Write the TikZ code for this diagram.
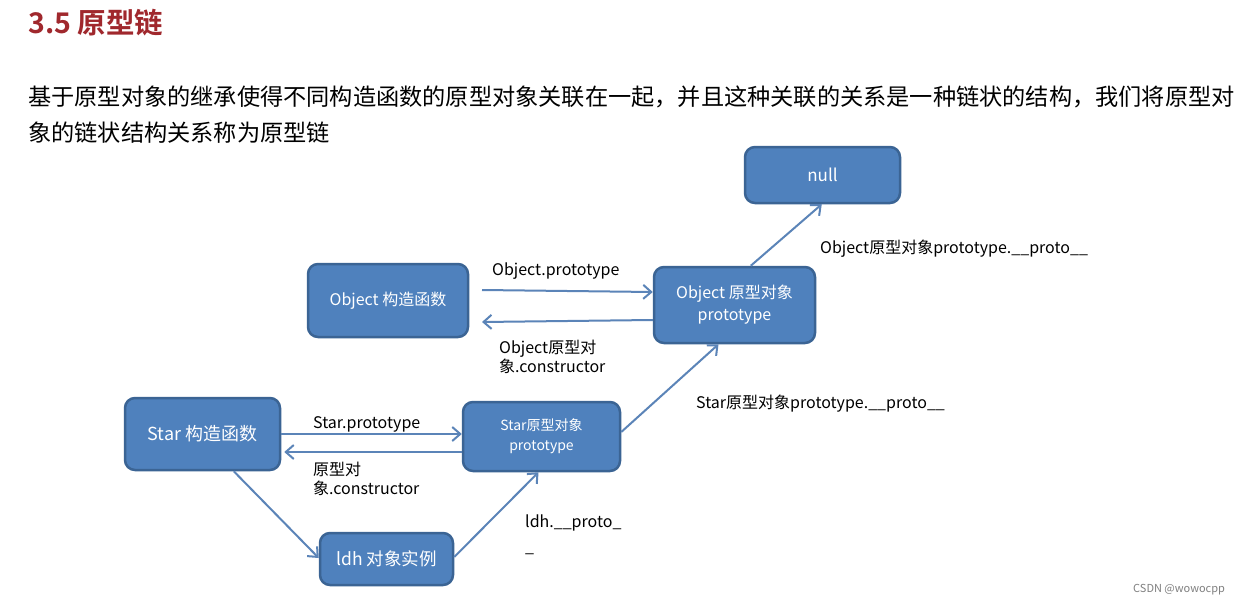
\documentclass[tikz,border=0pt]{standalone}
\usepackage{fontspec}
\setmainfont{Noto Sans CJK SC}
\newfontfamily\cjkb{Noto Sans CJK SC Bold}
\usetikzlibrary{arrows.meta}
\definecolor{boxfill}{HTML}{4F81BD}
\definecolor{boxline}{HTML}{3B6494}
\definecolor{arrowc}{HTML}{5B84B8}
\definecolor{titlered}{HTML}{A0282D}
\tikzset{
  box/.style={draw=boxline, line width=2.5pt, fill=boxfill, rounded corners=10pt, text=white, align=center, inner sep=0pt},
  link/.style={draw=arrowc, line width=2pt, -{Straight Barb[length=8pt,width=14pt,line width=2pt]}},
  lbl/.style={anchor=west, inner sep=0pt, font=\fontsize{16}{19}\selectfont, align=left},
}
\begin{document}
\begin{tikzpicture}[x=1pt,y=-1pt]
\useasboundingbox (0,0) rectangle (1247,607);
\fill[white] (0,0) rectangle (1247,607);
% title and paragraph
\node[anchor=west, inner sep=0pt, text=titlered, font=\cjkb\fontsize{28.5}{32}\selectfont] (title) at (28,23) {3.5 原型链};
\node[anchor=west, inner sep=0pt, font=\fontsize{23.2}{36}\selectfont] (p1) at (28,97) {基于原型对象的继承使得不同构造函数的原型对象关联在一起，并且这种关联的关系是一种链状的结构，我们将原型对};
\node[anchor=west, inner sep=0pt, font=\fontsize{23.2}{36}\selectfont] (p2) at (28,133) {象的链状结构关系称为原型链};
% boxes
\node[box, minimum width=155pt, minimum height=56pt, font=\fontsize{17}{20}\selectfont] (null) at (822.5,175) {null};
\node[box, minimum width=160pt, minimum height=73pt, font=\fontsize{16}{19}\selectfont] (octor) at (388,300.5) {Object 构造函数};
\node[box, minimum width=161pt, minimum height=76pt, font=\fontsize{16}{22}\selectfont] (oproto) at (734.5,305) {Object 原型对象\\prototype};
\node[box, minimum width=155pt, minimum height=72pt, font=\fontsize{18}{20}\selectfont] (sctor) at (202.5,434) {Star 构造函数};
\node[box, minimum width=157pt, minimum height=69pt, font=\fontsize{14}{20}\selectfont] (sproto) at (541.5,436.5) {Star原型对象\\prototype};
\node[box, minimum width=133pt, minimum height=52pt, font=\fontsize{17.5}{20}\selectfont] (ldh) at (386.5,559) {ldh 对象实例};
% connectors
\coordinate (a1s) at (482,290);
\draw[link] (a1s) -- (oproto.west |- 0,292);
\coordinate (a2e) at (482,322);
\draw[link] (oproto.west |- 0,320) -- (a2e);
\draw[link] ([xshift=98pt]oproto.north west) -- ([xshift=78pt]null.south west);
\draw[link] (sctor.east |- 0,434) -- (sproto.west |- 0,434);
\draw[link] (sproto.west |- 0,452) -- ([xshift=3pt]sctor.east |- 0,452);
\draw[link] (sproto.east |- 0,432) -- ([xshift=-16pt]oproto.south);
\draw[link] ([xshift=110pt]sctor.south west) -- (ldh.west |- 0,558);
\draw[link] (ldh.east |- 0,557) -- ([xshift=-3pt]sproto.south);
% labels
\node[lbl] (l1) at (492,271) {Object.prototype};
\node[lbl] (l2) at (499,356.5) {Object原型对\\象.constructor};
\node[lbl] (l3) at (820,249) {Object原型对象prototype.\_\_proto\_\_};
\node[lbl] (l4) at (313,424) {Star.prototype};
\node[lbl] (l5) at (313,478.5) {原型对\\象.constructor};
\node[lbl] (l6) at (696,404) {Star原型对象prototype.\_\_proto\_\_};
\node[lbl, font=\fontsize{16}{25}\selectfont] (l7) at (525,535) {ldh.\_\_proto\_\\\_};
\node[anchor=west, inner sep=0pt, text=gray, font=\fontsize{11}{13}\selectfont] (wm) at (1133,590) {CSDN @wowocpp};
\end{tikzpicture}
\end{document}
